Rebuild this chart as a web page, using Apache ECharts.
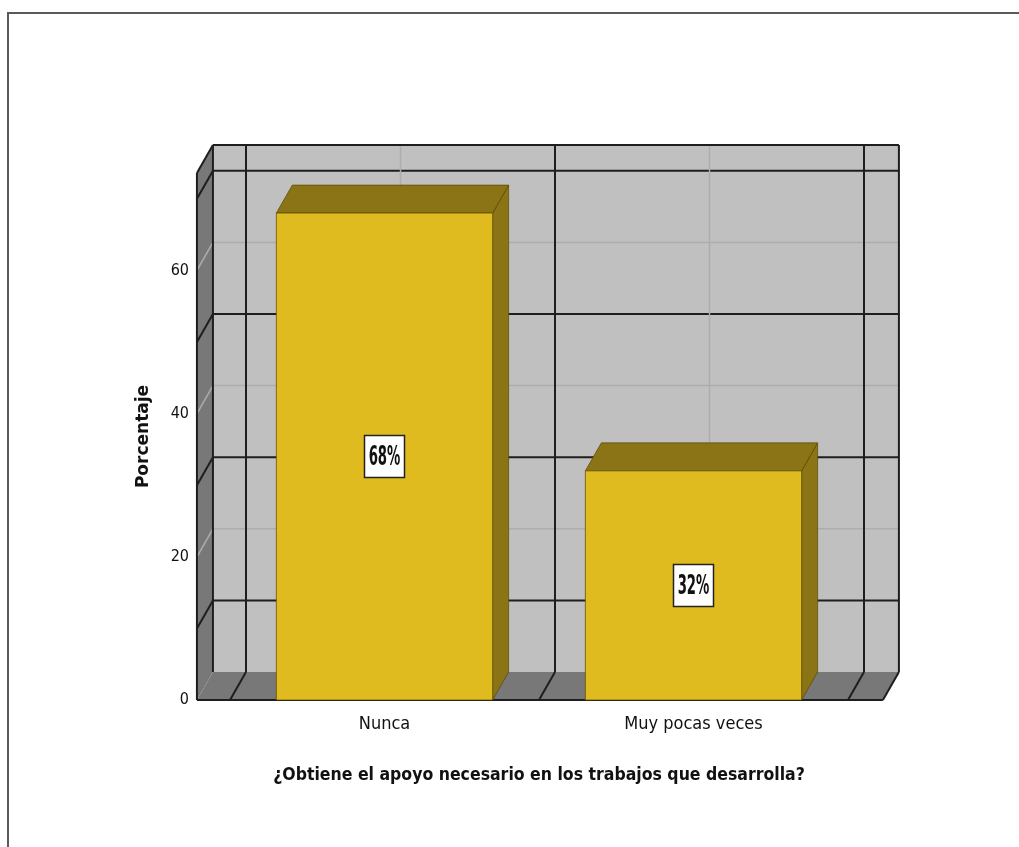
<!DOCTYPE html>
<html>
<head>
<meta charset="utf-8">
<script src="https://cdn.jsdelivr.net/npm/echarts@6/dist/echarts.min.js"></script>
<style>
html,body{margin:0;padding:0;background:#fff;}
#c{width:1019px;height:847px;}
</style>
</head>
<body>
<div id="c"></div>
<script>
// ---- data ----
const categories = ['Nunca', 'Muy pocas veces'];
const percentages = [68, 32];
const yTickLabels = [0, 20, 40, 60];
const yAxisMax = 73.6;
const xTitle = '¿Obtiene el apoyo necesario en los trabajos que desarrolla?';
const yTitle = 'Porcentaje';

// ---- style ----
const NARROW = "'Liberation Sans Narrow','DejaVu Sans Condensed','Arial Narrow',sans-serif";
const DX = 16, DY = -28;           // depth offset of the 3D box
const PAD_L = 0.107, PAD_R = 0.113; // extra floor beyond outer categories (fraction of band)
const BAR_W = 0.7;                 // bar width as fraction of band
const DARK = '#1e1e1e';
const LIGHT = '#adadad';
const darkLevels = [10, 30, 50, 70];
const lightLevels = [20, 40, 60];

function line(x1, y1, x2, y2, color, w) {
  return { type: 'line', shape: { x1, y1, x2, y2 }, style: { stroke: color, lineWidth: w } };
}

function renderFrame(params, api) {
  const bw = api.size([1, 0])[0];
  const c0 = api.coord([0, 0]);
  const cN = api.coord([categories.length - 1, 0]);
  const y0 = c0[1];
  const yTop = api.coord([0, yAxisMax])[1];
  const xL = c0[0] - bw * (0.5 + PAD_L);
  const xR = cN[0] + bw * (0.5 + PAD_R);
  const ch = [];
  ch.push({ type: 'rect', shape: { x: xL + DX, y: yTop + DY, width: xR - xL, height: y0 - yTop }, style: { fill: '#c0c0c0' } });
  ch.push({ type: 'polygon', shape: { points: [[xL, yTop], [xL + DX, yTop + DY], [xL + DX, y0 + DY], [xL, y0]] }, style: { fill: '#787878' } });
  ch.push({ type: 'polygon', shape: { points: [[xL, y0], [xL + DX, y0 + DY], [xR + DX, y0 + DY], [xR, y0]] }, style: { fill: '#787878' } });
  lightLevels.forEach(v => {
    const y = api.coord([0, v])[1];
    ch.push(line(xL + DX, y + DY, xR + DX, y + DY, LIGHT, 1.5));
    ch.push(line(xL, y, xL + DX, y + DY, LIGHT, 1.5));
  });
  darkLevels.forEach(v => {
    const y = api.coord([0, v])[1];
    ch.push(line(xL + DX, y + DY, xR + DX, y + DY, DARK, 2));
    ch.push(line(xL, y, xL + DX, y + DY, DARK, 2));
  });
  categories.forEach((c, i) => {
    const cx = api.coord([i, 0])[0];
    ch.push(line(cx + DX, yTop + DY, cx + DX, y0 + DY, LIGHT, 1.5));
    ch.push(line(cx, y0, cx + DX, y0 + DY, LIGHT, 1.5));
  });
  for (let i = 0; i <= categories.length; i++) {
    const xb = c0[0] - bw / 2 + i * bw;
    ch.push(line(xb + DX, yTop + DY, xb + DX, y0 + DY, DARK, 2));
    ch.push(line(xb, y0, xb + DX, y0 + DY, DARK, 2));
  }
  ch.push(line(xL + DX, yTop + DY, xR + DX, yTop + DY, DARK, 2));
  ch.push(line(xR + DX, yTop + DY, xR + DX, y0 + DY, DARK, 2));
  ch.push(line(xL + DX, yTop + DY, xL + DX, y0 + DY, DARK, 2));
  ch.push(line(xL, yTop, xL + DX, yTop + DY, DARK, 2));
  ch.push(line(xL, yTop, xL, y0, DARK, 2));
  ch.push(line(xL, y0, xR, y0, DARK, 2));
  ch.push(line(xR, y0, xR + DX, y0 + DY, DARK, 2));
  return { type: 'group', children: ch };
}

function renderBar(params, api) {
  const idx = api.value(0);
  const v = api.value(1);
  const bw = api.size([1, 0])[0];
  const top = api.coord([idx, v]);
  const base = api.coord([idx, 0]);
  const half = bw * BAR_W / 2;
  const xl = top[0] - half, xr = top[0] + half, yt = top[1], yb = base[1];
  const edge = 'rgba(90,70,0,0.7)';
  const cx = top[0], cy = (yt + yb) / 2;
  return {
    type: 'group',
    children: [
      { type: 'polygon', shape: { points: [[xr, yt], [xr + DX, yt + DY], [xr + DX, yb + DY], [xr, yb]] }, style: { fill: '#8b7415', stroke: edge, lineWidth: 1 } },
      { type: 'polygon', shape: { points: [[xl, yt], [xl + DX, yt + DY], [xr + DX, yt + DY], [xr, yt]] }, style: { fill: '#8b7415', stroke: edge, lineWidth: 1 } },
      { type: 'rect', shape: { x: xl, y: yt, width: xr - xl, height: yb - yt }, style: { fill: '#e0bb1f', stroke: edge, lineWidth: 1 } },
      { type: 'rect', shape: { x: cx - 20, y: cy - 21, width: 40, height: 42 }, style: { fill: '#ffffff', stroke: '#222', lineWidth: 1.5 } },
      { type: 'text', x: cx, y: cy + 1, scaleY: 1.7, scaleX: 0.92,
        style: { text: Math.round(v) + '%', fill: '#111', fontSize: 16, fontWeight: 'bold', fontFamily: NARROW, align: 'center', verticalAlign: 'middle' } }
    ]
  };
}

const chart = echarts.init(document.getElementById('c'), null, { renderer: 'canvas' });
chart.setOption({
  backgroundColor: '#ffffff',
  animation: false,
  graphic: [{
    type: 'polyline', silent: true,
    shape: { points: [[8, 847], [8, 13], [1019, 13]] },
    style: { stroke: '#5a5a5a', lineWidth: 2, fill: null }
  }],
  grid: { left: 230, right: 171, top: 173, bottom: 147, containLabel: false },
  xAxis: {
    type: 'category',
    data: categories,
    axisLine: { show: false },
    axisTick: { show: false },
    splitLine: { show: false },
    axisLabel: { margin: 15, fontSize: 18, color: '#111', fontFamily: NARROW },
    name: xTitle,
    nameLocation: 'middle',
    nameGap: 66,
    nameTextStyle: { fontSize: 17.5, fontWeight: 'bold', color: '#111', fontFamily: NARROW }
  },
  yAxis: {
    type: 'value',
    min: 0, max: yAxisMax, interval: 20,
    axisLine: { show: false },
    axisTick: { show: false },
    splitLine: { show: false },
    axisLabel: {
      margin: 41, fontSize: 16, color: '#111', fontFamily: NARROW,
      showMaxLabel: false,
      formatter: v => (yTickLabels.indexOf(v) >= 0 ? String(v) : '')
    },
    name: yTitle,
    nameLocation: 'middle',
    nameRotate: 90,
    nameGap: 78,
    nameTextStyle: { fontSize: 17, fontWeight: 'bold', color: '#111', fontFamily: "'DejaVu Sans',sans-serif" }
  },
  series: [
    { type: 'custom', name: 'frame', z: 1, clip: false, silent: true, renderItem: renderFrame, data: [[0, 0]] },
    { type: 'custom', name: 'Porcentaje', z: 2, clip: false, renderItem: renderBar,
      data: categories.map((c, i) => [i, percentages[i]]) }
  ]
});
</script>
</body>
</html>
